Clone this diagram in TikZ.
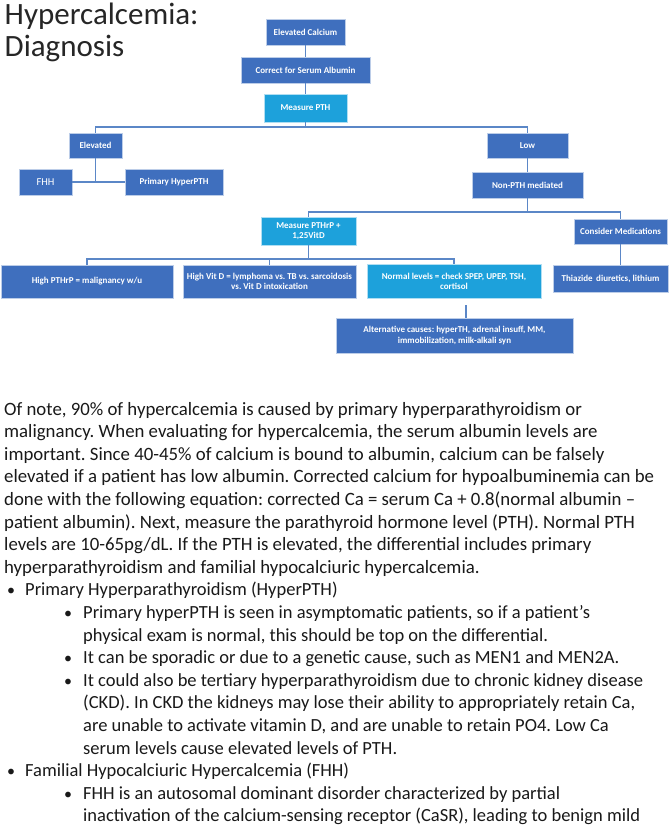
\documentclass[tikz,border=0pt]{standalone}
\usepackage{fontspec}
\setmainfont{Carlito}
\frenchspacing
\definecolor{boxblue}{HTML}{3F6FBE}
\definecolor{lightblue}{HTML}{1DA1DB}
\definecolor{linkblue}{HTML}{5B87C7}
\definecolor{titlegray}{HTML}{262626}
\begin{document}
\begin{tikzpicture}[x=1pt,y=-1pt,
  box/.style={fill=boxblue, draw=white!65!boxblue, line width=0.4pt, text=white,
    font=\fontsize{9}{10.5}\selectfont\bfseries, align=center, inner sep=1pt},
  lbox/.style={box, fill=lightblue, draw=white!65!lightblue},
  link/.style={draw=linkblue, line width=1.1pt},
  body/.style={anchor=base west, inner sep=0pt, font=\fontsize{18.5}{22.6}\selectfont, text=black!90},
  para/.style={body, font=\fontsize{18.8}{22.6}\selectfont},
  bul/.style={anchor=base west, inner sep=0pt, font=\fontsize{16}{22.6}\selectfont, text=black!90},
  ttl/.style={anchor=base west, inner sep=0pt, font=\fontsize{31}{34}\selectfont, text=titlegray}]
\fill[white] (0,0) rectangle (669,828);
\useasboundingbox (0,0) rectangle (669,828);

% title
\node[ttl] (t1) at (4.5,24.5) {Hypercalcemia:};
\node[ttl] (t2) at (4.5,56) {Diagnosis};

% boxes
\node[box, minimum width=79, minimum height=26] (ec) at (305.5,32) {Elevated Calcium};
\node[box, minimum width=129, minimum height=26] (csa) at (305.5,70) {Correct for Serum Albumin};
\node[lbox, minimum width=83, minimum height=28] (mpth) at (305.5,108) {Measure PTH};
\node[box, minimum width=53, minimum height=25] (elev) at (95.5,145.5) {Elevated};
\node[box, minimum width=53, minimum height=26, font=\fontsize{10.5}{12}\selectfont] (fhh) at (45.5,182) {FHH};
\node[box, minimum width=98, minimum height=26] (php) at (174,182) {Primary HyperPTH};
\node[box, minimum width=81, minimum height=25] (low) at (527.5,145.5) {Low};
\node[box, minimum width=111, minimum height=26] (npth) at (527.5,185) {Non-PTH mediated};
\node[lbox, minimum width=95, minimum height=28] (mrp) at (308.5,231) {Measure PTHrP +\\1,25VitD};
\node[box, minimum width=93, minimum height=25] (cm) at (620.5,231.5) {Consider Medications};
\node[box, minimum width=115, minimum height=27] (thz) at (610.5,278.5) {Thiazide\, diuretics, lithium};
\node[box, minimum width=172, minimum height=33] (hrp) at (87,281.5) {High PTHrP = malignancy w/u};
\node[box, minimum width=173, minimum height=33] (hvd) at (269.5,281.5) {High Vit D = lymphoma vs. TB vs. sarcoidosis\\vs. Vit D intoxication};
\node[lbox, minimum width=174, minimum height=34] (nrm) at (454,281.5) {Normal levels = check SPEP, UPEP, TSH,\\cortisol};
\node[box, minimum width=237, minimum height=35] (alt) at (454.5,335.5) {Alternative causes: hyperTH, adrenal insuff, MM,\\immobilization, milk-alkali syn};

% connectors
\draw[link] (ec) -- (csa);
\draw[link] (csa) -- (mpth);
\coordinate (bus1) at (305.5,127);
\draw[link] (mpth.south) -- (bus1) -| (elev.north);
\draw[link] (bus1) -| (low.north);
\coordinate (bus2) at (95.5,182);
\draw[link] (elev.south) -- (bus2);
\draw[link] (fhh.east) -- (php.west);
\draw[link] (low) -- (npth);
\coordinate (bus3) at (527.5,212);
\draw[link] (npth.south) -- (bus3) -| (mrp.north);
\draw[link] (bus3) -| (cm.north);
\draw[link] (cm.south) -- (cm.south |- thz.north);
\coordinate (bus4) at (308.5,259);
\draw[link] (mrp.south) -- (bus4) -| (hrp.north);
\draw[link] (bus4) -| (hvd.north);
\draw[link] (bus4) -| (nrm.north);
\coordinate (altin) at (466,305);
\draw[link] (altin) -- (altin |- alt.north);

% body text
\node[para] (l0) at (4,415.0) {Of note, 90\% of hypercalcemia is caused by primary hyperparathyroidism or};
\node[para] (l1) at (4,437.6) {malignancy. When evaluating for hypercalcemia, the serum albumin levels are};
\node[para] (l2) at (4,460.2) {important. Since 40-45\% of calcium is bound to albumin, calcium can be falsely};
\node[para] (l3) at (4,482.8) {elevated if a patient has low albumin. Corrected calcium for hypoalbuminemia can be};
\node[para] (l4) at (4,505.4) {done with the following equation: corrected Ca = serum Ca + 0.8(normal albumin –};
\node[para] (l5) at (4,528.0) {patient albumin). Next, measure the parathyroid hormone level (PTH). Normal PTH};
\node[para] (l6) at (4,550.6) {levels are 10-65pg/dL. If the PTH is elevated, the differential includes primary};
\node[para] (l7) at (4,573.2) {hyperparathyroidism and familial hypocalciuric hypercalcemia.};
\node[bul] (b8) at (7,595.8) {•};
\node[body] (l8) at (25,595.8) {Primary Hyperparathyroidism (HyperPTH)};
\node[bul] (b9) at (64,618.4) {•};
\node[body] (l9) at (83,618.4) {Primary hyperPTH is seen in asymptomatic patients, so if a patient’s};
\node[body] (l10) at (83,641.0) {physical exam is normal, this should be top on the differential.};
\node[bul] (b11) at (64,663.6) {•};
\node[body] (l11) at (83,663.6) {It can be sporadic or due to a genetic cause, such as MEN1 and MEN2A.};
\node[bul] (b12) at (64,686.2) {•};
\node[body] (l12) at (83,686.2) {It could also be tertiary hyperparathyroidism due to chronic kidney disease};
\node[body] (l13) at (83,708.8) {(CKD). In CKD the kidneys may lose their ability to appropriately retain Ca,};
\node[body] (l14) at (83,731.4) {are unable to activate vitamin D, and are unable to retain PO4. Low Ca};
\node[body] (l15) at (83,754.0) {serum levels cause elevated levels of PTH.};
\node[bul] (b16) at (7,776.6) {•};
\node[body] (l16) at (25,776.6) {Familial Hypocalciuric Hypercalcemia (FHH)};
\node[bul] (b17) at (64,799.2) {•};
\node[body] (l17) at (83,799.2) {FHH is an autosomal dominant disorder characterized by partial};
\node[body] (l18) at (83,821.8) {inactivation of the calcium-sensing receptor (CaSR), leading to benign mild};
\end{tikzpicture}
\end{document}
